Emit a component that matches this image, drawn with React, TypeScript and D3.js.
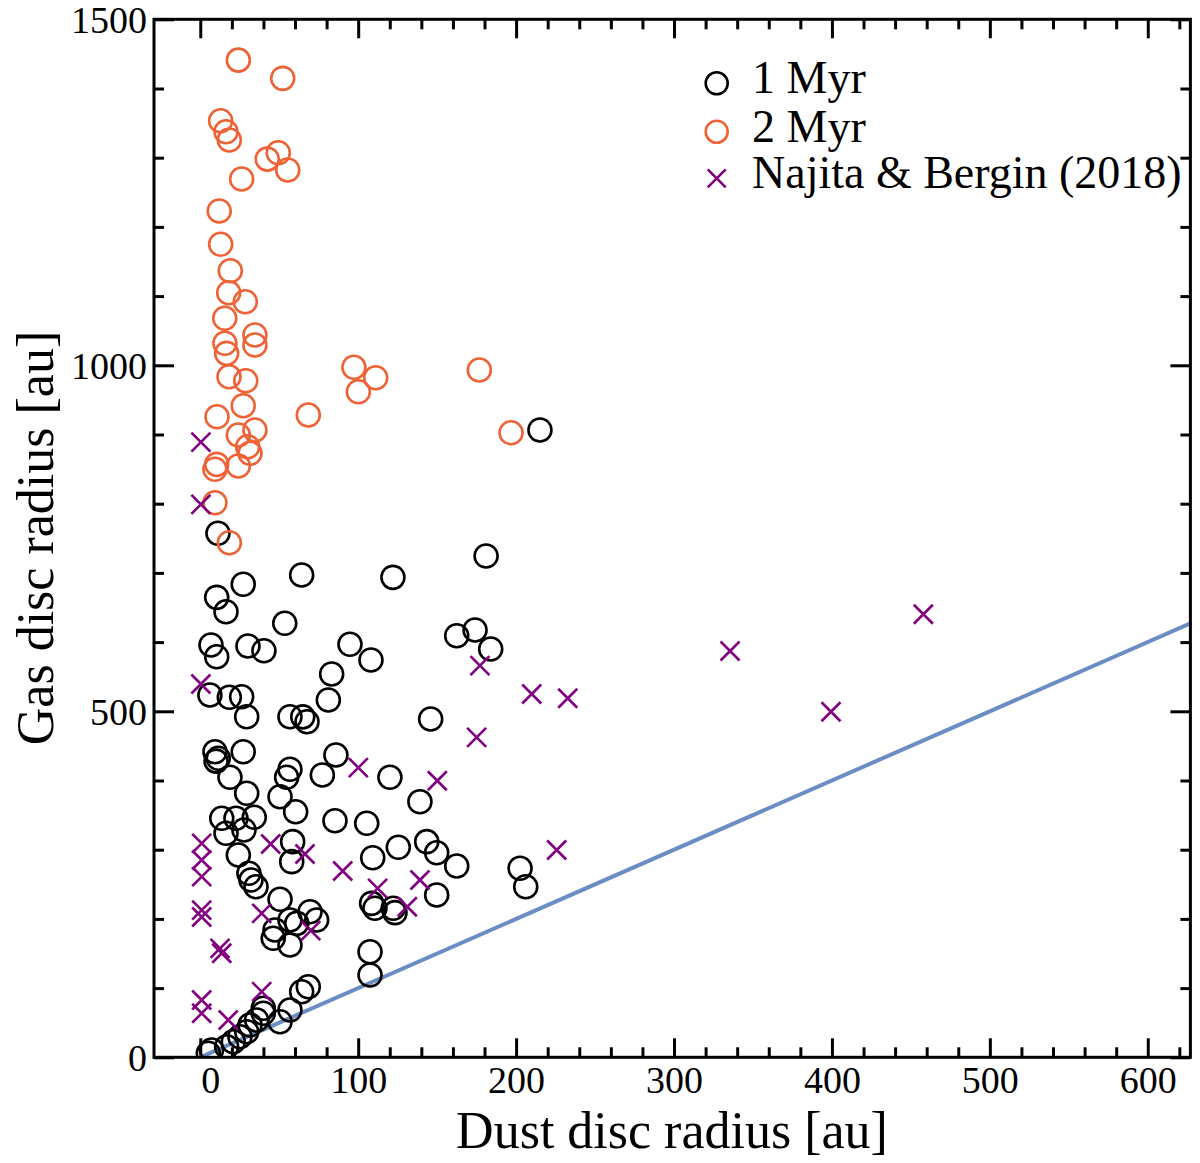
import React, { useRef, useEffect } from 'react';
import * as d3 from 'd3';

// [dust radius, gas radius] in au
const myr1: [number, number][] = [
    [215.1, 906.5], [11.2, 757.2], [181, 724.4], [64.2, 697], [122, 693.6], [27.2, 683.5],
    [10.4, 664.7], [16.3, 643.9], [53.5, 627.2], [162.4, 609.2], [174, 617.5], [183.9, 590],
    [6.8, 595.8], [10.4, 578.9], [30.2, 594.4], [40.3, 587.6], [94.8, 596.8], [108.1, 574.1],
    [83.2, 553.9], [81.1, 516.3], [6.1, 523.6], [18.4, 520.2], [26.2, 521.1], [29.4, 492.2],
    [56.8, 492.2], [64.9, 492], [67.6, 485], [145.9, 488.9], [9.3, 441.6], [11.4, 432.1],
    [10, 428], [27.2, 441.6], [85.9, 436.8], [18.8, 404.6], [56.8, 416.2], [54.7, 404.6],
    [77.3, 408], [120.1, 404.6], [29.4, 381.5], [50.5, 376.6], [139.1, 369.4], [60.4, 354.9],
    [13.6, 345.4], [22.6, 345.4], [34.2, 346.8], [16.3, 323.7], [27.7, 328.5], [85.3, 341.9],
    [105.4, 338.2], [58.5, 311.6], [57.9, 282.7], [125.4, 303.5], [143.4, 311.6], [149.7, 295.7],
    [162.4, 276.4], [24.1, 292.3], [109.2, 288.4], [30.8, 265.9], [32.1, 256.2], [35.3, 246.5],
    [202.5, 273.1], [206.1, 246.5], [149.7, 234.5], [50.5, 228.3], [108.5, 222.5], [110.6, 215.3],
    [122.2, 215.3], [123.3, 209], [69.5, 210.4], [73.7, 198.4], [56.8, 198.4], [61.1, 193.6],
    [47.3, 184], [46.2, 172], [56.8, 162.3], [107.5, 152.6], [107.5, 118.9], [68.4, 102],
    [64.2, 94.8], [56.8, 68.4], [50.5, 51.4], [39.9, 70.8], [39.9, 63.6], [35.7, 53.9],
    [31.5, 46.7], [29.4, 37], [25.1, 29.8], [20.9, 22.5], [16.7, 15.3], [7.2, 10.5], [5.1, 5.8]
];

const myr2: [number, number][] = [
    [24.1, 1441], [52.2, 1414.7], [12.9, 1353.5], [16.3, 1337.6], [18.4, 1325.6], [42.4, 1298],
    [49.4, 1307.2], [55.4, 1282.2], [26.2, 1269.2], [12, 1223], [12.9, 1174.9], [19, 1136.7],
    [18, 1104.9], [28.5, 1091.9], [15.5, 1067.9], [34.6, 1043.8], [34.6, 1029.3], [15.6, 1031.8],
    [16.7, 1017.3], [18.2, 983.5], [28.8, 977.7], [97.3, 997.1], [111.1, 982.1], [100.1, 961.8],
    [176.7, 993.2], [68.4, 928.2], [10.6, 925.7], [27.2, 941.6], [34.6, 906.5], [24.1, 899.3],
    [30, 882.4], [31.5, 872.8], [24.1, 854.5], [10.4, 856.9], [9.3, 849.7], [196.8, 902.6],
    [9.3, 801.4], [18.4, 743.6]
];

const najita: [number, number][] = [
    [0.4, 889], [0.4, 799], [0.4, 539.5], [177.1, 565.9], [209.9, 525], [232.7, 518.8],
    [335.5, 587.1], [399.4, 499.4], [457.9, 640.2], [175, 462.4], [100.1, 418.5], [150.1, 399.7],
    [225.7, 299.6], [0.9, 309.2], [0.9, 285.1], [0.9, 261], [0.9, 212.7], [0.9, 202.8],
    [44.6, 308.2], [66.3, 293.8], [90.2, 269.2], [112.3, 244.2], [139.1, 256.2], [131.1, 217.6],
    [38.9, 208.1], [70, 183], [12.5, 157.5], [13.6, 150.3], [0.9, 82.8], [0.9, 63.6],
    [17.7, 53.9], [38.9, 94.8]
];

const oneToOne = [0, 627];
const xMajor = [0, 100, 200, 300, 400, 500, 600];
const yMajor = [0, 500, 1000, 1500];
const legendLabels = ['1 Myr', '2 Myr', 'Najita & Bergin (2018)'];

const colors = {
    myr1: '#000000',
    myr2: '#ee6336',
    najita: '#800080',
    line: '#6a8dc3'
};

const font = '"Liberation Serif", "Times New Roman", serif';

export default function App() {
    const svgRef = useRef<SVGSVGElement | null>(null);

    useEffect(() => {
        if (!svgRef.current) return;
        const svg = d3.select(svgRef.current);
        svg.selectAll('*').remove();

        const left = 154, right = 1190.4, top = 19.3, bottom = 1057.3;

        const x = d3.scaleLinear().domain([-29.3, 627]).range([left, right]);
        const y = d3.scaleLinear().domain([0, 1500]).range([bottom, top]);

        svg.append('defs').append('clipPath').attr('id', 'plot-clip')
            .append('rect')
            .attr('x', left).attr('y', top)
            .attr('width', right - left).attr('height', bottom - top);

        const xMinor = d3.range(0, 621, 20).filter(v => v % 100 !== 0);
        const yMinor = d3.range(0, 1501, 100).filter(v => v % 500 !== 0);

        const styleAxis = (g: d3.Selection<SVGGElement, unknown, null, undefined>) => {
            g.select('.domain').remove();
            g.selectAll('line').attr('stroke', '#000').attr('stroke-width', 3);
            g.selectAll('text')
                .attr('fill', '#000')
                .style('font-family', font)
                .style('font-size', '38px');
        };

        // bottom axis
        const xAxis = svg.append('g').attr('transform', `translate(0,${bottom})`)
            .call(d3.axisBottom(x).tickValues(xMajor).tickSizeInner(-19).tickSizeOuter(0).tickPadding(9).tickFormat(d3.format('d')))
            .call(styleAxis);
        // the "0" label sits a little right of its tick in the original
        xAxis.selectAll<SVGTextElement, number>('text').filter(d => d === 0).attr('dx', 10);
        svg.append('g').attr('transform', `translate(0,${bottom})`)
            .call(d3.axisBottom(x).tickValues(xMinor).tickSizeInner(-10).tickSizeOuter(0).tickFormat(() => ''))
            .call(styleAxis);
        // top axis
        svg.append('g').attr('transform', `translate(0,${top})`)
            .call(d3.axisTop(x).tickValues(xMajor).tickSizeInner(-19).tickSizeOuter(0).tickFormat(() => ''))
            .call(styleAxis);
        svg.append('g').attr('transform', `translate(0,${top})`)
            .call(d3.axisTop(x).tickValues(xMinor).tickSizeInner(-10).tickSizeOuter(0).tickFormat(() => ''))
            .call(styleAxis);
        // left axis
        const yAxis = svg.append('g').attr('transform', `translate(${left},0)`)
            .call(d3.axisLeft(y).tickValues(yMajor).tickSizeInner(-20).tickSizeOuter(0).tickPadding(7).tickFormat(d3.format('d')))
            .call(styleAxis);
        yAxis.selectAll('text').attr('dy', '0.36em');
        svg.append('g').attr('transform', `translate(${left},0)`)
            .call(d3.axisLeft(y).tickValues(yMinor).tickSizeInner(-10).tickSizeOuter(0).tickFormat(() => ''))
            .call(styleAxis);
        // right axis
        svg.append('g').attr('transform', `translate(${right},0)`)
            .call(d3.axisRight(y).tickValues(yMajor).tickSizeInner(-20).tickSizeOuter(0).tickFormat(() => ''))
            .call(styleAxis);
        svg.append('g').attr('transform', `translate(${right},0)`)
            .call(d3.axisRight(y).tickValues(yMinor).tickSizeInner(-10).tickSizeOuter(0).tickFormat(() => ''))
            .call(styleAxis);

        const plot = svg.append('g').attr('clip-path', 'url(#plot-clip)');

        // 1:1 line
        const line = d3.line<number>().x(d => x(d)).y(d => y(d));
        plot.append('path')
            .datum(oneToOne)
            .attr('fill', 'none')
            .attr('stroke', colors.line)
            .attr('stroke-width', 4)
            .attr('d', line);

        // 1 Myr
        plot.append('g').selectAll('circle')
            .data(myr1).enter().append('circle')
            .attr('cx', d => x(d[0])).attr('cy', d => y(d[1]))
            .attr('r', 11.5)
            .attr('fill', 'none')
            .attr('stroke', colors.myr1)
            .attr('stroke-width', 2.6);

        // 2 Myr
        plot.append('g').selectAll('circle')
            .data(myr2).enter().append('circle')
            .attr('cx', d => x(d[0])).attr('cy', d => y(d[1]))
            .attr('r', 11.5)
            .attr('fill', 'none')
            .attr('stroke', colors.myr2)
            .attr('stroke-width', 2.6);

        // Najita & Bergin
        const cross = (cx: number, cy: number, s: number) =>
            `M${cx - s},${cy - s}L${cx + s},${cy + s}M${cx - s},${cy + s}L${cx + s},${cy - s}`;
        plot.append('g').selectAll('path')
            .data(najita).enter().append('path')
            .attr('d', d => cross(x(d[0]), y(d[1]), 9.5))
            .attr('fill', 'none')
            .attr('stroke', colors.najita)
            .attr('stroke-width', 2.6);

        // frame
        svg.append('rect')
            .attr('x', left).attr('y', top)
            .attr('width', right - left).attr('height', bottom - top)
            .attr('fill', 'none')
            .attr('stroke', '#000')
            .attr('stroke-width', 3);

        // axis titles
        svg.append('text')
            .attr('x', 672).attr('y', 1148)
            .attr('text-anchor', 'middle')
            .style('font-family', font).style('font-size', '52px')
            .text('Dust disc radius [au]');
        svg.append('text')
            .attr('transform', 'translate(53,538) rotate(-90)')
            .attr('text-anchor', 'middle')
            .style('font-family', font).style('font-size', '52px')
            .text('Gas disc radius [au]');

        // legend
        const legend = svg.append('g');
        const rows = [83.3, 131.7, 178.3];
        legendLabels.forEach((label, i) => {
            const cy = rows[i];
            if (i < 2) {
                legend.append('circle')
                    .attr('cx', 716.7).attr('cy', cy).attr('r', 11)
                    .attr('fill', 'none')
                    .attr('stroke', i === 0 ? colors.myr1 : colors.myr2)
                    .attr('stroke-width', 2.6);
            } else {
                legend.append('path')
                    .attr('d', cross(716.7, cy, 9))
                    .attr('stroke', colors.najita)
                    .attr('stroke-width', 2.6);
            }
            legend.append('text')
                .attr('x', 752).attr('y', cy + 10)
                .style('font-family', font).style('font-size', '46px')
                .attr('fill', '#000')
                .text(label);
        });
    }, []);

    return (
        <svg
            ref={svgRef}
            width={1200}
            height={1163}
            style={{ position: 'absolute', left: 0, top: 0, background: '#fff' }}
        />
    );
}
